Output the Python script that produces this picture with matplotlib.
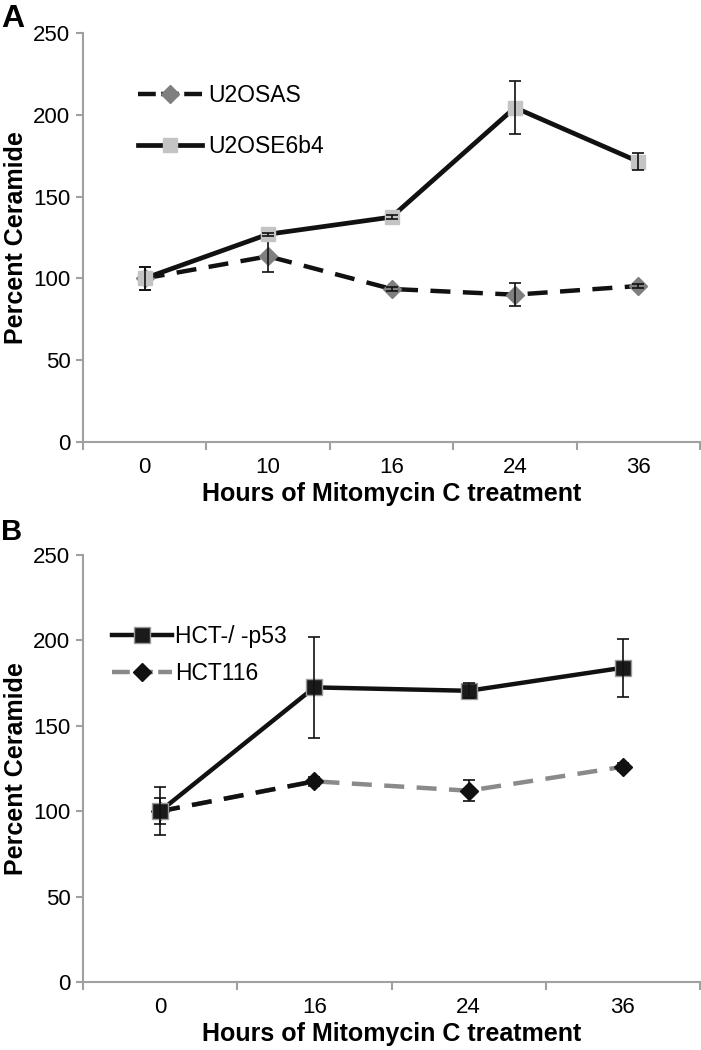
import numpy as np
import matplotlib.pyplot as plt
from matplotlib.lines import Line2D

plt.rcParams['font.family'] = ['Liberation Sans', 'DejaVu Sans']

# panel A
hours_a = ["0", "10", "16", "24", "36"]
u2osas = [100, 113.5, 93.5, 90, 95.3]
u2osas_err = [7, 9.5, 1.5, 7, 1.5]
u2ose6b4 = [100, 127, 137.5, 204.5, 171.5]
u2ose6b4_err = [7, 1, 1, 16, 5]

# panel B
hours_b = ["0", "16", "24", "36"]
hct_p53 = [100, 172.5, 170.5, 184]
hct_p53_err = [14, 29.5, 4.5, 17]
hct116 = [100, 117.5, 112, 126]
hct116_err = [7.5, 2.5, 6, 2.5]

yticks = [0, 50, 100, 150, 200, 250]
spine_col = "#a0a0a0"


def style_axes(ax, labels):
    n = len(labels)
    ax.set_xlim(-0.5, n - 0.5)
    ax.set_ylim(0, 250)
    ax.set_yticks(yticks)
    ax.set_xticks(np.arange(n))
    ax.set_xticklabels(labels)
    ax.set_xticks(np.arange(n + 1) - 0.5, minor=True)
    for s in ["top", "right"]:
        ax.spines[s].set_visible(False)
    for s in ["left", "bottom"]:
        ax.spines[s].set_color(spine_col)
        ax.spines[s].set_linewidth(1.5)
    ax.tick_params(axis="y", length=5, width=1.5, color=spine_col,
                   labelsize=16, pad=4)
    ax.tick_params(axis="x", which="major", length=0, labelsize=16, pad=11)
    ax.tick_params(axis="x", which="minor", length=6, width=1.5,
                   color=spine_col)
    ax.set_ylabel("Percent Ceramide", fontsize=18, fontweight="bold",
                  labelpad=4)
    ax.set_xlabel("Hours of Mitomycin C treatment", fontsize=18,
                  fontweight="bold", labelpad=3)


fig = plt.figure(figsize=(7.01, 10.5), dpi=100)
ax1 = fig.add_axes([83 / 701, 1 - 441.7 / 1050, 617 / 701, 408.4 / 1050])
ax2 = fig.add_axes([83 / 701, 1 - 982 / 1050, 617 / 701, 427 / 1050])

# --- A ---
xa = np.arange(len(hours_a))
ax1.plot(xa, u2osas, color="#111111", lw=3.2, ls=(0, (4.5, 2.8)),
         marker="D", ms=9.5, mfc="#7f7f7f", mec="#7f7f7f", zorder=3)
ax1.errorbar(xa, u2osas, yerr=u2osas_err, fmt="none", ecolor="#111111",
             elinewidth=1.2, capsize=4.5, capthick=1.2, zorder=4)
ax1.plot(xa, u2ose6b4, color="#111111", lw=3.4, marker="s", ms=9.5,
         mfc="#c4c4c4", mec="#c4c4c4", zorder=5)
ax1.errorbar(xa, u2ose6b4, yerr=u2ose6b4_err, fmt="none", ecolor="#111111",
             elinewidth=1.2, capsize=4.5, capthick=1.2, zorder=6)
style_axes(ax1, hours_a)

h_a = [Line2D([], [], color="#111111", lw=3.2, ls=(0, (4, 1.2)), marker="D",
              ms=9.5, mfc="#7f7f7f", mec="#7f7f7f"),
       Line2D([], [], color="#111111", lw=3.4, marker="s", ms=9.5,
              mfc="#c4c4c4", mec="#c4c4c4")]
ax1.legend(h_a, ["U2OSAS", "U2OSE6b4"], loc="upper left",
           bbox_to_anchor=(0.089, 0.875), frameon=False, fontsize=16.5,
           handlelength=2.8, handletextpad=0.25, labelspacing=1.22,
           borderpad=0, borderaxespad=0)

# --- B ---
xb = np.arange(len(hours_b))
ax2.plot(xb, hct116, color="#8a8a8a", lw=3.2, ls=(0, (4.5, 2.8)), zorder=2)
ax2.plot(xb[:2], hct116[:2], color="#111111", lw=3.2, ls=(0, (4.5, 2.8)),
         zorder=2.5)
ax2.plot(xb, hct116, ls="none", marker="D", ms=9, mfc="#111111",
         mec="#111111", zorder=3)
ax2.errorbar(xb, hct116, yerr=hct116_err, fmt="none", ecolor="#111111",
             elinewidth=1.2, capsize=4.5, capthick=1.2, zorder=4)
ax2.plot(xb, hct_p53, color="#111111", lw=3.2, marker="s", ms=11,
         mfc="#1a1a1a", mec="#9a9a9a", mew=1, zorder=5)
ax2.errorbar(xb, hct_p53, yerr=hct_p53_err, fmt="none", ecolor="#111111",
             elinewidth=1.2, capsize=4.5, capthick=1.2, zorder=6)
style_axes(ax2, hours_b)

h_b = [Line2D([], [], color="#111111", lw=3.2, marker="s", ms=11,
              mfc="#1a1a1a", mec="#9a9a9a", mew=1),
       Line2D([], [], color="#8a8a8a", lw=3.2, ls=(0, (4, 1.2)), marker="D",
              ms=9, mfc="#111111", mec="#111111")]
ax2.legend(h_b, ["HCT-/ -p53", "HCT116"], loc="upper left",
           bbox_to_anchor=(0.047, 0.835), frameon=False, fontsize=16.5,
           handlelength=2.6, handletextpad=0.15, labelspacing=0.6,
           borderpad=0, borderaxespad=0)

fig.text(0.002, 1 - 4 / 1050, "A", fontsize=23, fontweight="bold",
         va="top", ha="left")
fig.text(0.002, 1 - 518 / 1050, "B", fontsize=21, fontweight="bold",
         va="top", ha="left")

fig.savefig("out.png", dpi=100)
